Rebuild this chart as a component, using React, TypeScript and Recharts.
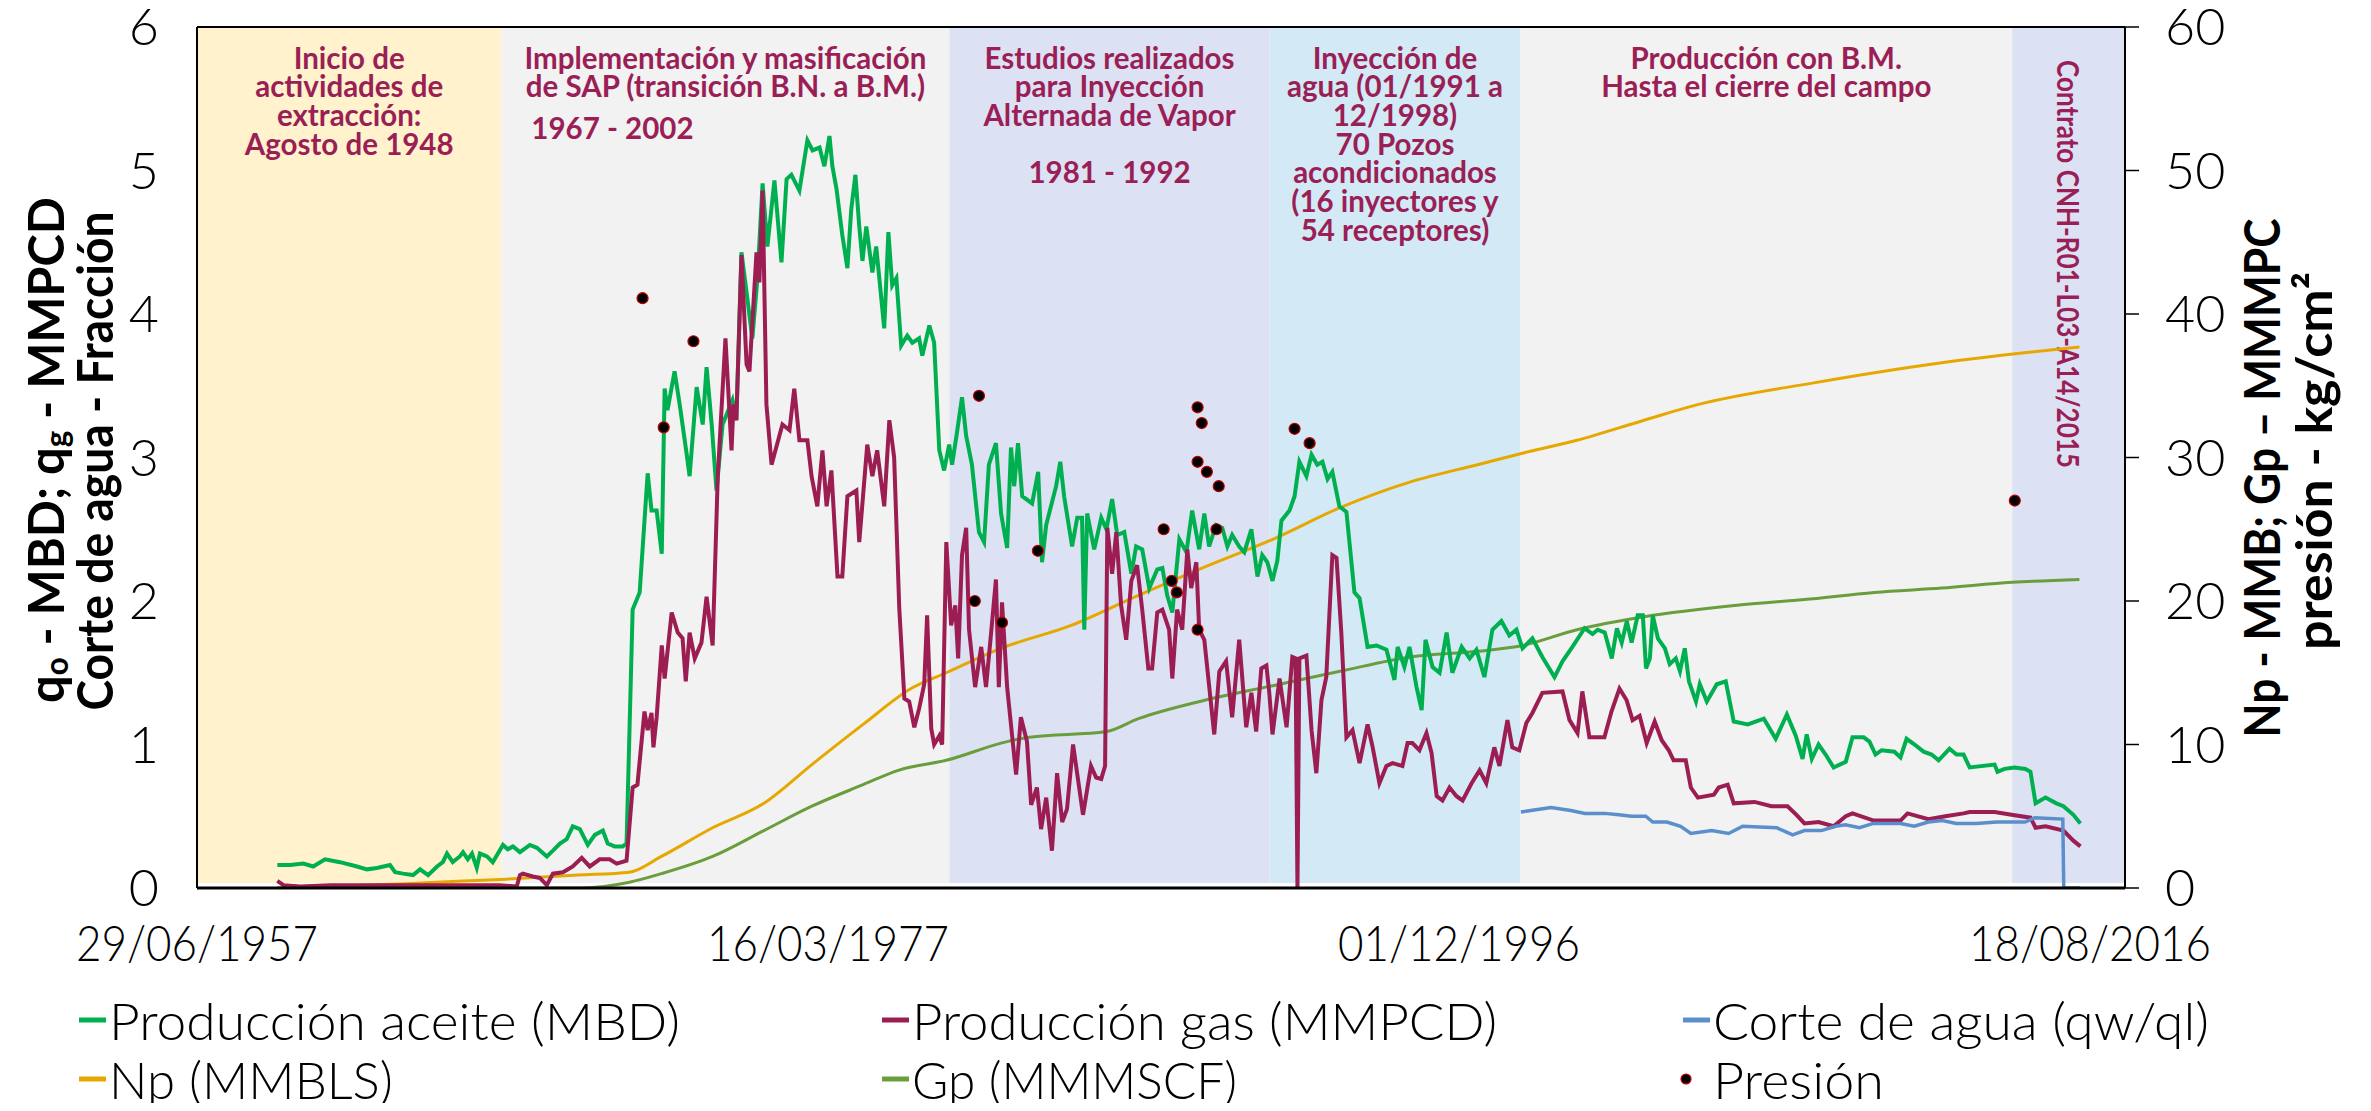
import React from "react";
import { ComposedChart, Line, Scatter, XAxis, YAxis, ReferenceArea, ReferenceLine } from "recharts";

// decimal year from an ISO date
const toYear = (iso: string) => {
  const d = new Date(iso + "T00:00:00Z");
  const y = d.getUTCFullYear();
  const a = Date.UTC(y, 0, 1);
  const b = Date.UTC(y + 1, 0, 1);
  return y + (d.getTime() - a) / (b - a);
};

const axisStart = "1957-06-29";
const axisEnd = "2017-09-22";
const tickDates = ["1957-06-29", "1977-03-16", "1996-12-01", "2016-08-18"];
const tickLabels = ["29/06/1957", "16/03/1977", "01/12/1996", "18/08/2016"];
const leftTicks = [0, 1, 2, 3, 4, 5, 6];
const rightTicks = [0, 10, 20, 30, 40, 50, 60];

// shaded stages of the field history
const bandEdges = ["1957-06-29", "1967-01-01", "1981-01-01", "1991-01-01", "1998-11-01", "2014-03-15", "2017-09-22"];
const bandColors = ["#FFF2CC", "#F2F2F2", "#DCE2F4", "#D3E9F5", "#F2F2F2", "#DCE2F4"];
const bandNotes = [
  ["Inicio de", "actividades de", "extracción:", "Agosto de 1948"],
  ["Implementación y masificación", "de SAP (transición B.N. a B.M.)"],
  ["Estudios realizados", "para Inyección", "Alternada de Vapor", "", "1981 - 1992"],
  ["Inyección de", "agua (01/1991 a", "12/1998)", "70 Pozos", "acondicionados", "(16 inyectores y", "54 receptores)"],
  ["Producción con B.M.", "Hasta el cierre del campo"],
  ["Contrato CNH-R01-L03-A14/2015"],
];
const sapPeriod = "1967 - 2002";

// Producción aceite (MBD) [year, value]
const oil: [number, number][] = [
  [1960.0, 0.16], [1960.4, 0.16], [1960.81, 0.17], [1961.12, 0.15], [1961.49, 0.2], [1961.96, 0.18], [1962.49, 0.15], [1962.8, 0.13],
  [1963.11, 0.14], [1963.52, 0.16], [1963.68, 0.11], [1963.93, 0.1], [1964.24, 0.09], [1964.46, 0.13], [1964.71, 0.09], [1964.99, 0.15],
  [1965.17, 0.18], [1965.3, 0.24], [1965.48, 0.18], [1965.7, 0.22], [1965.8, 0.25], [1965.95, 0.2], [1966.08, 0.24], [1966.23, 0.14],
  [1966.33, 0.24], [1966.55, 0.22], [1966.73, 0.18], [1967.05, 0.3], [1967.2, 0.27], [1967.36, 0.29], [1967.58, 0.25], [1967.89, 0.3],
  [1968.11, 0.28], [1968.42, 0.22], [1968.61, 0.26], [1968.83, 0.31], [1969.04, 0.34], [1969.23, 0.43], [1969.45, 0.41], [1969.7, 0.3],
  [1969.92, 0.37], [1970.17, 0.4], [1970.32, 0.31], [1970.54, 0.29], [1970.79, 0.29], [1970.91, 0.31], [1971.1, 1.94], [1971.32, 2.06],
  [1971.57, 2.89], [1971.69, 2.63], [1971.85, 2.63], [1972.01, 2.33], [1972.1, 3.48], [1972.19, 3.33], [1972.41, 3.6], [1972.57, 3.37],
  [1972.79, 3.02], [1972.88, 2.87], [1973.1, 3.49], [1973.29, 3.23], [1973.41, 3.63], [1973.57, 3.23], [1973.72, 2.77], [1973.91, 3.23],
  [1974.22, 3.4], [1974.34, 3.26], [1974.5, 4.43], [1974.66, 4.15], [1974.84, 3.83], [1975.0, 4.25], [1975.16, 4.91], [1975.31, 4.47],
  [1975.53, 4.93], [1975.75, 4.36], [1975.91, 4.94], [1976.06, 4.97], [1976.31, 4.86], [1976.56, 5.21], [1976.72, 5.14], [1976.94, 5.16],
  [1977.09, 5.03], [1977.25, 5.24], [1977.34, 5.03], [1977.47, 4.87], [1977.65, 4.55], [1977.81, 4.32], [1977.93, 4.73], [1978.06, 4.97],
  [1978.18, 4.61], [1978.28, 4.37], [1978.4, 4.61], [1978.59, 4.29], [1978.71, 4.47], [1978.96, 3.9], [1979.09, 4.57], [1979.21, 4.2],
  [1979.34, 4.25], [1979.49, 3.78], [1979.68, 3.85], [1979.84, 3.8], [1980.05, 3.83], [1980.15, 3.71], [1980.37, 3.92], [1980.52, 3.8],
  [1980.68, 3.05], [1980.83, 2.91], [1980.99, 3.09], [1981.08, 2.95], [1981.23, 3.17], [1981.39, 3.42], [1981.52, 3.15], [1981.7, 2.95],
  [1981.92, 2.48], [1982.08, 2.41], [1982.23, 2.95], [1982.45, 3.1], [1982.61, 2.61], [1982.8, 2.37], [1982.92, 3.07], [1983.02, 2.8],
  [1983.14, 3.1], [1983.27, 2.73], [1983.58, 2.68], [1983.77, 2.9], [1983.89, 2.27], [1984.02, 2.53], [1984.33, 2.8], [1984.46, 2.97],
  [1984.58, 2.73], [1984.83, 2.38], [1984.99, 2.58], [1985.14, 2.58], [1985.21, 1.8], [1985.3, 2.61], [1985.52, 2.36], [1985.74, 2.58],
  [1985.9, 2.5], [1986.08, 2.71], [1986.24, 2.46], [1986.46, 2.48], [1986.68, 2.19], [1986.83, 2.38], [1987.02, 2.36], [1987.24, 2.09],
  [1987.49, 2.22], [1987.65, 2.23], [1987.8, 2.04], [1987.96, 1.92], [1988.18, 2.43], [1988.4, 2.34], [1988.58, 2.63], [1988.8, 2.36],
  [1988.96, 2.61], [1989.11, 2.38], [1989.33, 2.53], [1989.52, 2.51], [1989.68, 2.38], [1989.83, 2.46], [1990.05, 2.38], [1990.21, 2.34],
  [1990.43, 2.5], [1990.62, 2.17], [1990.77, 2.32], [1990.93, 2.27], [1991.09, 2.14], [1991.24, 2.28], [1991.37, 2.56], [1991.62, 2.63],
  [1991.78, 2.73], [1991.93, 2.97], [1992.15, 2.87], [1992.31, 3.02], [1992.49, 2.95], [1992.65, 2.97], [1992.81, 2.85], [1992.96, 2.9],
  [1993.18, 2.66], [1993.4, 2.62], [1993.65, 2.06], [1993.81, 2.02], [1994.06, 1.68], [1994.34, 1.69], [1994.65, 1.66], [1994.9, 1.45],
  [1995.0, 1.68], [1995.21, 1.54], [1995.37, 1.68], [1995.59, 1.4], [1995.75, 1.24], [1995.87, 1.73], [1996.09, 1.54], [1996.31, 1.5],
  [1996.53, 1.78], [1996.71, 1.5], [1997.0, 1.68], [1997.25, 1.6], [1997.46, 1.66], [1997.71, 1.47], [1997.96, 1.8], [1998.24, 1.86],
  [1998.49, 1.76], [1998.71, 1.8], [1998.9, 1.67], [1999.21, 1.74], [1999.52, 1.61], [1999.9, 1.47], [2000.15, 1.58], [2000.46, 1.68],
  [2000.84, 1.81], [2001.09, 1.77], [2001.25, 1.8], [2001.47, 1.78], [2001.69, 1.6], [2001.85, 1.81], [2002.0, 1.71], [2002.16, 1.86],
  [2002.31, 1.71], [2002.5, 1.9], [2002.66, 1.9], [2002.76, 1.53], [2002.88, 1.6], [2002.97, 1.9], [2003.13, 1.74], [2003.35, 1.67],
  [2003.5, 1.56], [2003.69, 1.6], [2003.82, 1.51], [2003.97, 1.67], [2004.1, 1.44], [2004.32, 1.3], [2004.44, 1.42], [2004.66, 1.3],
  [2004.97, 1.42], [2005.25, 1.44], [2005.5, 1.16], [2005.94, 1.14], [2006.44, 1.18], [2006.81, 1.04], [2007.16, 1.21], [2007.44, 1.06],
  [2007.65, 0.9], [2007.78, 1.07], [2007.94, 0.9], [2008.15, 1.0], [2008.37, 0.93], [2008.62, 0.84], [2009.0, 0.88], [2009.21, 1.05],
  [2009.56, 1.05], [2009.74, 1.02], [2009.93, 0.93], [2010.12, 0.96], [2010.52, 0.95], [2010.71, 0.91], [2010.9, 1.04], [2011.15, 1.0],
  [2011.43, 0.95], [2011.68, 0.93], [2011.9, 0.89], [2012.24, 0.97], [2012.46, 0.93], [2012.68, 0.93], [2012.87, 0.84], [2013.65, 0.86],
  [2013.74, 0.81], [2013.96, 0.83], [2014.27, 0.84], [2014.61, 0.83], [2014.77, 0.81], [2014.93, 0.59], [2015.24, 0.63], [2015.58, 0.59],
  [2015.8, 0.57], [2016.11, 0.51], [2016.33, 0.45],
];

// Producción gas (MMPCD)
const gas: [number, number][] = [
  [1960.0, 0.05], [1960.19, 0.02], [1960.72, 0.01], [1961.65, 0.02], [1963.21, 0.02], [1964.46, 0.02], [1965.7, 0.02], [1966.95, 0.02],
  [1967.48, 0.01], [1967.58, 0.09], [1967.67, 0.1], [1967.98, 0.08], [1968.2, 0.07], [1968.42, 0.02], [1968.61, 0.1], [1968.92, 0.11],
  [1969.23, 0.15], [1969.51, 0.21], [1969.76, 0.15], [1970.07, 0.2], [1970.38, 0.2], [1970.6, 0.17], [1970.91, 0.19], [1971.1, 0.7],
  [1971.25, 0.72], [1971.47, 1.23], [1971.57, 1.1], [1971.69, 1.22], [1971.75, 0.98], [1971.85, 1.19], [1972.01, 1.69], [1972.1, 1.46],
  [1972.32, 1.92], [1972.51, 1.78], [1972.66, 1.74], [1972.76, 1.44], [1972.88, 1.78], [1973.04, 1.6], [1973.25, 1.71], [1973.41, 2.03],
  [1973.6, 1.69], [1973.76, 2.87], [1974.0, 3.83], [1974.19, 3.05], [1974.25, 3.37], [1974.34, 3.26], [1974.5, 4.41], [1974.66, 3.65],
  [1974.75, 3.6], [1974.97, 4.43], [1975.06, 4.22], [1975.16, 4.86], [1975.28, 3.37], [1975.44, 2.95], [1975.78, 3.23], [1976.0, 3.19],
  [1976.15, 3.48], [1976.31, 3.12], [1976.56, 3.12], [1976.69, 2.87], [1976.87, 2.66], [1977.03, 3.05], [1977.16, 2.66], [1977.31, 2.91],
  [1977.5, 2.17], [1977.65, 2.17], [1977.81, 2.73], [1978.09, 2.77], [1978.18, 2.41], [1978.43, 3.09], [1978.59, 2.87], [1978.74, 3.05],
  [1978.96, 2.66], [1979.12, 3.26], [1979.27, 3.0], [1979.43, 1.95], [1979.59, 1.32], [1979.74, 1.3], [1979.9, 1.12], [1980.05, 1.25],
  [1980.21, 1.42], [1980.3, 1.9], [1980.43, 1.11], [1980.52, 1.0], [1980.68, 1.06], [1980.77, 1.0], [1980.9, 2.41], [1981.05, 1.83],
  [1981.18, 1.97], [1981.27, 1.6], [1981.39, 2.32], [1981.52, 2.51], [1981.61, 1.8], [1981.8, 1.4], [1981.99, 1.68], [1982.14, 1.4],
  [1982.3, 1.78], [1982.45, 2.15], [1982.54, 1.4], [1982.64, 1.99], [1982.8, 1.4], [1983.08, 0.79], [1983.23, 1.19], [1983.42, 1.02],
  [1983.55, 0.58], [1983.73, 0.7], [1983.86, 0.41], [1984.02, 0.63], [1984.2, 0.26], [1984.36, 0.8], [1984.52, 0.46], [1984.67, 0.55],
  [1984.86, 1.0], [1985.05, 0.7], [1985.17, 0.51], [1985.42, 0.85], [1985.58, 0.77], [1985.74, 0.76], [1985.86, 0.85], [1985.93, 2.51],
  [1986.08, 2.19], [1986.21, 2.48], [1986.36, 1.97], [1986.52, 1.73], [1986.68, 2.14], [1986.86, 2.25], [1987.02, 1.94], [1987.21, 1.53],
  [1987.33, 1.53], [1987.49, 1.92], [1987.65, 1.94], [1987.86, 1.8], [1987.96, 1.46], [1988.11, 1.94], [1988.27, 1.8], [1988.43, 2.36],
  [1988.55, 2.09], [1988.71, 2.27], [1988.8, 1.8], [1988.96, 1.73], [1989.11, 1.41], [1989.27, 1.07], [1989.43, 1.51], [1989.64, 1.58],
  [1989.83, 1.19], [1990.05, 1.73], [1990.27, 1.12], [1990.43, 1.36], [1990.58, 1.09], [1990.74, 1.53], [1990.9, 1.55], [1990.99, 1.36],
  [1991.09, 1.07], [1991.31, 1.46], [1991.53, 1.12], [1991.71, 1.61], [1991.81, 1.6], [1991.87, 0.0], [1991.93, 1.6], [1992.15, 1.62],
  [1992.31, 1.1], [1992.46, 0.8], [1992.62, 1.31], [1992.77, 1.47], [1992.96, 2.32], [1993.09, 2.3], [1993.24, 1.78], [1993.4, 1.05],
  [1993.59, 1.1], [1993.81, 0.87], [1994.06, 1.14], [1994.22, 0.98], [1994.43, 0.73], [1994.65, 0.85], [1994.84, 0.87], [1995.15, 0.85],
  [1995.31, 1.01], [1995.46, 1.01], [1995.68, 0.96], [1995.9, 1.08], [1996.06, 0.94], [1996.22, 0.64], [1996.4, 0.61], [1996.62, 0.7],
  [1996.84, 0.64], [1997.03, 0.61], [1997.31, 0.73], [1997.56, 0.82], [1997.77, 0.73], [1998.02, 0.98], [1998.18, 0.85], [1998.43, 1.17],
  [1998.58, 0.98], [1998.8, 0.96], [1999.02, 1.15], [1999.21, 1.22], [1999.52, 1.36], [2000.15, 1.37], [2000.37, 1.17], [2000.62, 1.08],
  [2000.77, 1.37], [2000.99, 1.05], [2001.46, 1.05], [2001.68, 1.23], [2001.93, 1.39], [2002.15, 1.31], [2002.34, 1.17], [2002.56, 1.2],
  [2002.78, 1.01], [2003.03, 1.16], [2003.25, 1.03], [2003.47, 0.96], [2003.62, 0.89], [2004.0, 0.89], [2004.16, 0.7], [2004.38, 0.63],
  [2004.88, 0.65], [2005.03, 0.7], [2005.31, 0.72], [2005.5, 0.59], [2006.15, 0.6], [2006.68, 0.57], [2007.18, 0.57], [2007.46, 0.51],
  [2007.71, 0.45], [2008.15, 0.46], [2008.62, 0.43], [2009.0, 0.5], [2009.21, 0.52], [2009.87, 0.47], [2010.71, 0.47], [2010.93, 0.52],
  [2011.58, 0.48], [2012.11, 0.5], [2012.68, 0.52], [2012.87, 0.53], [2013.65, 0.53], [2014.18, 0.51], [2014.77, 0.49], [2014.93, 0.42],
  [2015.24, 0.43], [2015.8, 0.4], [2016.11, 0.33], [2016.33, 0.29],
];

// Corte de agua (qw/ql)
const waterCut: [number, number][] = [
  [1998.85, 0.53], [1999.16, 0.54], [1999.79, 0.56], [2000.41, 0.54], [2000.85, 0.52], [2001.47, 0.52], [2001.91, 0.51], [2002.31, 0.5],
  [2002.75, 0.5], [2002.97, 0.46], [2003.41, 0.46], [2003.84, 0.43], [2004.16, 0.38], [2004.81, 0.4], [2005.34, 0.38], [2005.78, 0.43],
  [2006.84, 0.42], [2007.34, 0.37], [2007.71, 0.4], [2008.24, 0.4], [2008.68, 0.43], [2008.99, 0.44], [2009.43, 0.42], [2009.86, 0.45],
  [2010.71, 0.45], [2011.14, 0.43], [2011.58, 0.46], [2012.02, 0.47], [2012.45, 0.45], [2013.07, 0.45], [2013.73, 0.46], [2014.6, 0.46],
  [2014.91, 0.49], [2015.78, 0.48], [2015.81, 0.0], [2016.31, 0.0],
];

// Np (MMBLS), right axis
const np: [number, number][] = [
  [1960.0, 0.0], [1962.0, 0.15], [1964.0, 0.3], [1966.0, 0.5], [1967.0, 0.6], [1969.4, 0.9], [1971.0, 1.1], [1972.0, 2.2],
  [1973.6, 4.2], [1975.2, 5.9], [1976.7, 8.6], [1978.3, 11.4], [1979.8, 13.9], [1980.9, 15.0], [1982.6, 16.7], [1984.8, 18.3],
  [1986.9, 20.4], [1989.0, 22.4], [1991.1, 24.3], [1993.2, 26.5], [1995.4, 28.3], [1997.5, 29.5], [1998.9, 30.3], [2000.6, 31.2],
  [2002.7, 32.6], [2004.4, 33.7], [2008.0, 35.2], [2012.0, 36.6], [2016.3, 37.7],
];

// Gp (MMMSCF), right axis
const gp: [number, number][] = [
  [1960.0, 0.0], [1969.5, 0.0], [1971.0, 0.4], [1972.0, 1.0], [1973.6, 2.2], [1975.2, 4.0], [1976.7, 5.7], [1978.3, 7.2],
  [1979.4, 8.2], [1980.9, 8.9], [1982.8, 10.2], [1983.5, 10.5], [1985.9, 10.9], [1986.9, 11.8], [1989.0, 13.1], [1991.1, 14.1],
  [1993.2, 15.1], [1995.4, 16.1], [1997.5, 16.5], [1998.9, 16.9], [2000.6, 18.0], [2002.7, 18.9], [2005.6, 19.7], [2007.7, 20.1],
  [2009.9, 20.6], [2012.0, 20.9], [2014.2, 21.3], [2016.3, 21.5],
];

// Presión (kg/cm2), right axis
const pressure: [number, number][] = [
  [1971.41, 41.1], [1972.07, 32.1], [1973.0, 38.1], [1981.79, 20.0], [1981.92, 34.3], [1982.64, 18.5], [1983.76, 23.5],
  [1987.69, 25.0], [1987.94, 21.4], [1988.1, 20.6], [1988.75, 18.0], [1988.75, 33.5], [1988.88, 32.4], [1988.75, 29.7],
  [1989.04, 29.0], [1989.41, 28.0], [1989.34, 25.0], [1991.78, 32.0], [1992.25, 31.0], [2014.28, 27.0],
];

const legendNames = [
  "Producción aceite (MBD)", "Producción gas (MMPCD)", "Corte de agua (qw/ql)",
  "Np (MMBLS)", "Gp (MMMSCF)", "Presión",
];

const C = {
  oil: "#00B050",
  gas: "#9C1D52",
  water: "#5B8FCB",
  np: "#E6A800",
  gp: "#6A9E3C",
  note: "#9A1F56",
};
const legendColors = [C.oil, C.gas, C.water, C.np, C.gp, "#000"];

const W = 2371;
const H = 1111;
const FONT = "Lato, 'Open Sans', sans-serif";

const pts = (arr: [number, number][]) => arr.map(([t, v]) => ({ t, v }));

const BandLabel = (props: any) => {
  const { viewBox, lines, vertical, extra } = props;
  if (!viewBox) return null;
  const cx = viewBox.x + viewBox.width / 2;
  const top = viewBox.y;
  const style = { fontFamily: FONT, fontWeight: 700, fontSize: 29.5, fill: C.note };
  if (vertical) {
    return (
      <text x={cx} y={top + 33} transform={`rotate(90 ${cx} ${top + 33})`} dominantBaseline="central"
        textLength={408} lengthAdjust="spacingAndGlyphs" style={style}>
        {lines[0]}
      </text>
    );
  }
  return (
    <g>
      {lines.map((s: string, i: number) => (
        <text key={i} x={cx} y={top + 30 + i * 28.7} textAnchor="middle" dominantBaseline="central" style={style}>
          {s}
        </text>
      ))}
      {extra ? (
        <text x={cx - 113} y={top + 100} textAnchor="middle" dominantBaseline="central" style={style}>
          {extra}
        </text>
      ) : null}
    </g>
  );
};

export default function App() {
  const xMin = toYear(axisStart);
  const xMax = toYear(axisEnd);
  const xTicks = tickDates.map(toYear);
  const edges = bandEdges.map(toYear);

  const XTick = (p: any) => {
    const i = xTicks.findIndex((t) => Math.abs(t - p.payload.value) < 0.01);
    return (
      <text x={p.x} y={p.y} dy="0.71em" textAnchor="middle" textLength={242} lengthAdjust="spacingAndGlyphs"
        style={{ fontFamily: FONT, fontWeight: 300, fontSize: 50, fill: "#000" }}>
        {tickLabels[i]}
      </text>
    );
  };

  const tickStyle = { fontFamily: FONT, fontWeight: 300, fontSize: 52, fill: "#000" };

  const legendX = [79, 882, 1683];
  const legendY = [1020, 1079];
  const legendLen = [571, 585, 496, 284, 325, 171];

  return (
    <div style={{ position: "relative", width: W, height: H, margin: -8, overflow: "hidden" }}>
      <ComposedChart width={W} height={H} margin={{ top: 27, right: 126, bottom: 163, left: 97 }}>
        {bandColors.map((c, i) => (
          <ReferenceArea
            key={i}
            yAxisId="left"
            x1={edges[i]}
            x2={edges[i + 1]}
            y1={0.035}
            y2={6}
            fill={c}
            fillOpacity={1}
            stroke="none"
            label={<BandLabel lines={bandNotes[i]} vertical={i === 5} extra={i === 1 ? sapPeriod : undefined} />}
          />
        ))}
        <XAxis type="number" dataKey="t" domain={[xMin, xMax]} ticks={xTicks} interval={0} allowDataOverflow
          tickLine={false} tickSize={0} tickMargin={37} height={60}
          axisLine={{ stroke: "#000", strokeWidth: 3 }} tick={<XTick />} />
        <YAxis yAxisId="left" domain={[0, 6]} ticks={leftTicks} interval={0} allowDataOverflow width={100}
          tickLine={false} tickSize={0} tickMargin={38} axisLine={{ stroke: "#000", strokeWidth: 2 }} tick={tickStyle} />
        <YAxis yAxisId="right" orientation="right" domain={[0, 60]} ticks={rightTicks} interval={0} allowDataOverflow width={120}
          tickLine={{ stroke: "#000", strokeWidth: 1.5 }} tickSize={14} tickMargin={26}
          axisLine={{ stroke: "#000", strokeWidth: 2 }} tick={tickStyle} />
        <ReferenceLine yAxisId="left" y={6} stroke="#000" strokeWidth={2} />

        <Line yAxisId="right" data={pts(np)} dataKey="v" type="monotone" stroke={C.np} strokeWidth={3} dot={false} isAnimationActive={false} />
        <Line yAxisId="right" data={pts(gp)} dataKey="v" type="monotone" stroke={C.gp} strokeWidth={3} dot={false} isAnimationActive={false} />
        <Line yAxisId="left" data={pts(oil)} dataKey="v" type="linear" stroke={C.oil} strokeWidth={4} dot={false} isAnimationActive={false} />
        <Line yAxisId="left" data={pts(gas)} dataKey="v" type="linear" stroke={C.gas} strokeWidth={4} dot={false} isAnimationActive={false} />
        <Line yAxisId="left" data={pts(waterCut)} dataKey="v" type="linear" stroke={C.water} strokeWidth={3.5} dot={false} isAnimationActive={false} />
        <Scatter yAxisId="right" data={pts(pressure)} dataKey="v" isAnimationActive={false}
          shape={(p: any) => <circle cx={p.cx} cy={p.cy} r={5.5} fill="#000" stroke="#C00000" strokeWidth={1.2} />} />
      </ComposedChart>

      <svg width={W} height={H} style={{ position: "absolute", left: 0, top: 0, pointerEvents: "none" }}>
        <g style={{ fontFamily: FONT, fontWeight: 700, fontSize: 50, fill: "#000" }}>
          <text x={45} y={450} transform="rotate(-90 45 450)" textAnchor="middle" dominantBaseline="central" textLength={506} lengthAdjust="spacingAndGlyphs">
            q<tspan fontSize={32} dy={10}>o</tspan><tspan dy={-10}> - MBD; q</tspan><tspan fontSize={32} dy={10}>g</tspan><tspan dy={-10}> - MMPCD</tspan>
          </text>
          <text x={94} y={461} transform="rotate(-90 94 461)" textAnchor="middle" dominantBaseline="central" textLength={499} lengthAdjust="spacingAndGlyphs">
            Corte de agua - Fracción
          </text>
          <text x={2261} y={478} transform="rotate(-90 2261 478)" textAnchor="middle" dominantBaseline="central" textLength={519} lengthAdjust="spacingAndGlyphs">
            Np - MMB; Gp – MMMPC
          </text>
          <text x={2313} y={461} transform="rotate(-90 2313 461)" textAnchor="middle" dominantBaseline="central" textLength={378} lengthAdjust="spacingAndGlyphs">
            presión - kg/cm²
          </text>
        </g>
        {legendNames.map((name, i) => {
          const x = legendX[i % 3];
          const y = legendY[Math.floor(i / 3)];
          return (
            <g key={name}>
              {i === 5 ? (
                <circle cx={x + 3} cy={y} r={5} fill="#000" stroke="#C00000" strokeWidth={1.2} />
              ) : (
                <line x1={x} x2={x + 27} y1={y} y2={y} stroke={legendColors[i]} strokeWidth={5} />
              )}
              <text x={x + 30} y={y} dominantBaseline="central" textLength={legendLen[i]} lengthAdjust="spacingAndGlyphs"
                style={{ fontFamily: FONT, fontWeight: 300, fontSize: 52, fill: "#000" }}>
                {name}
              </text>
            </g>
          );
        })}
      </svg>
    </div>
  );
}
